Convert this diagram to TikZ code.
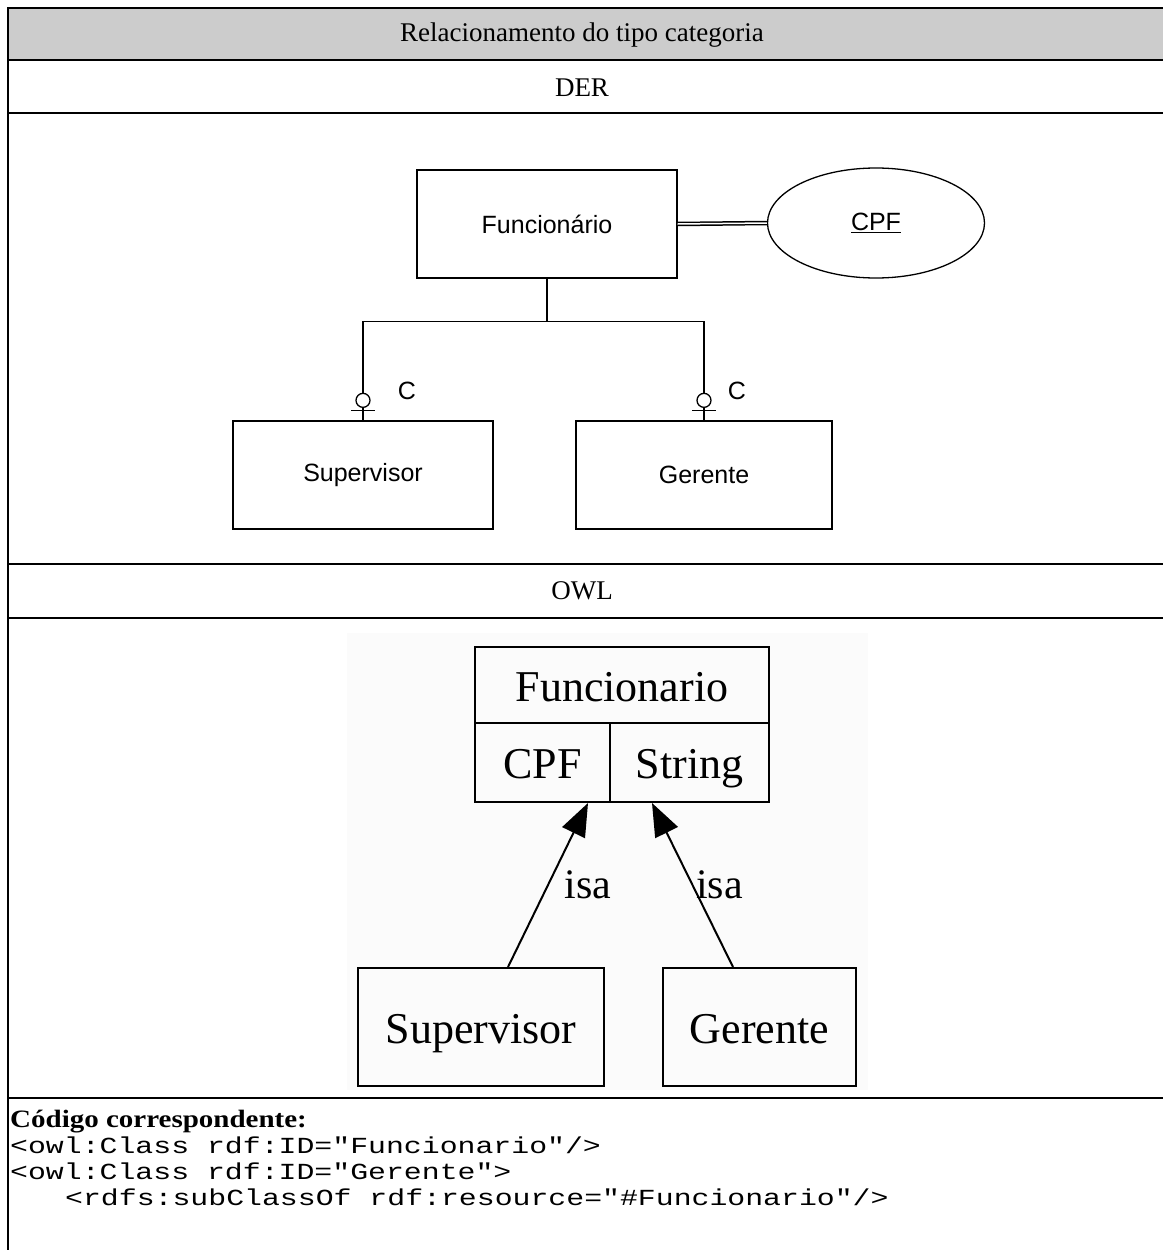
\documentclass[tikz,border=0pt]{standalone}
\usepackage{fontspec}
\setmainfont{Liberation Serif}
\newfontfamily\dersans{Liberation Sans}
\newfontfamily\codefont{Liberation Mono}[FakeStretch=1.297]
\newfontfamily\wideserif{Liberation Serif}[FakeStretch=1.16]
\usetikzlibrary{shapes, positioning, arrows.meta, calc}

\begin{document}
\begin{tikzpicture}[x=1pt, y=-1pt,
    rule/.style={line width=2.6pt},
    cell/.style={font=\fontsize{27}{31}\selectfont},
    entbox/.style={draw, line width=1.3pt, minimum width=260, minimum height=108, inner sep=0, font=\dersans\fontsize{25}{29}\selectfont},
    attr/.style={draw, ellipse, line width=1.3pt, minimum width=217, minimum height=110, inner sep=0, font=\dersans\fontsize{25}{29}\selectfont},
    link/.style={line width=1.3pt},
    ring/.style={draw, circle, fill=white, line width=1.3pt, minimum size=14, inner sep=0},
    dlabel/.style={font=\dersans\fontsize{25}{29}\selectfont},
    owlbox/.style={draw, line width=2pt, inner sep=0, text height=38pt, text depth=6pt, font=\fontsize{44}{48}\selectfont},
    isa/.style={line width=2pt, -{Triangle[length=33pt, width=25pt]}},
    isalabel/.style={font=\fontsize{42}{46}\selectfont},
    code/.style={anchor=base west, inner sep=0, font=\codefont\fontsize{23}{26}\selectfont}]

    \useasboundingbox (0,0) rectangle (1163,1250);

    % table frame
    \fill[gray!40] (8,8) rectangle (1163,60);
    \draw[rule] (8,1250) -- (8,8) -- (1163,8);
    \draw[rule] (8,60) -- (1163,60);
    \draw[rule] (8,113) -- (1163,113);
    \draw[rule] (8,564) -- (1163,564);
    \draw[rule] (8,618) -- (1163,618);
    \draw[rule] (8,1098) -- (1163,1098);

    \node[cell] (head) at (582,35) {Relacionamento do tipo categoria};
    \node[cell] (derT) at (582,88) {DER};
    \node[cell] (owlT) at (582,591) {OWL};

    % DER
    \node[entbox] (fun) at (547,224) {Funcionário};
    \node[attr] (cpf) at (876,223) {\underline{CPF}};
    \draw[double, double distance=1.5pt, line width=1.5pt] (fun.east) -- (cpf.west);

    \node[entbox] (sup) at (363,475) {Supervisor};
    \node[entbox, minimum width=256] (ger) at (704,475) {Gerente};

    \draw[link] (fun.south) -- ++(0,43) coordinate (split);
    \draw[link] (sup.north) |- (split) -| (ger.north);

    \draw[link] ($(sup.north)+(-12,-10)$) -- ++(24,0);
    \node[ring] (supRing) at ($(sup.north)+(0,-20)$) {};
    \node[dlabel] (supC) at ($(sup.north)+(44,-29)$) {C};

    \draw[link] ($(ger.north)+(-12,-10)$) -- ++(24,0);
    \node[ring] (gerRing) at ($(ger.north)+(0,-20)$) {};
    \node[dlabel] (gerC) at ($(ger.north)+(33,-29)$) {C};

    % OWL
    \fill[gray!3] (347,633) rectangle (868,1090);
    \node[owlbox, minimum width=294, minimum height=76] (fnHead) at (622,685) {Funcionario};
    \node[owlbox, minimum width=135, minimum height=79] (fnCPF) at (542.5,762.5) {CPF};
    \node[owlbox, minimum width=159, minimum height=79] (fnStr) at (689.5,762.5) {String};

    \node[owlbox, minimum width=246, minimum height=118] (oSup) at (481,1027) {Supervisor};
    \node[owlbox, minimum width=193, minimum height=118] (oGer) at (759.5,1027) {Gerente};

    \draw[isa] ($(oSup.north)+(27,0)$) -- ($(fnCPF.south east)+(-23,0)$)
        node[isalabel, pos=0.5, xshift=40] {isa};
    \draw[isa] ($(oGer.north)+(-26.5,0)$) -- ($(fnStr.south west)+(43,0)$)
        node[isalabel, pos=0.5, xshift=27] {isa};

    % code
    \node[anchor=base west, inner sep=0, font=\wideserif\bfseries\fontsize{25}{26}\selectfont] (codeT) at (10,1127) {Código correspondente:};
    \node[code] (code1) at (10,1153) {<owl:Class rdf:ID="Funcionario"/>};
    \node[code] (code2) at (10,1179) {<owl:Class rdf:ID="Gerente">};
    \node[code] (code3) at (65,1205) {<rdfs:subClassOf rdf:resource="\#Funcionario"/>};

\end{tikzpicture}
\end{document}
